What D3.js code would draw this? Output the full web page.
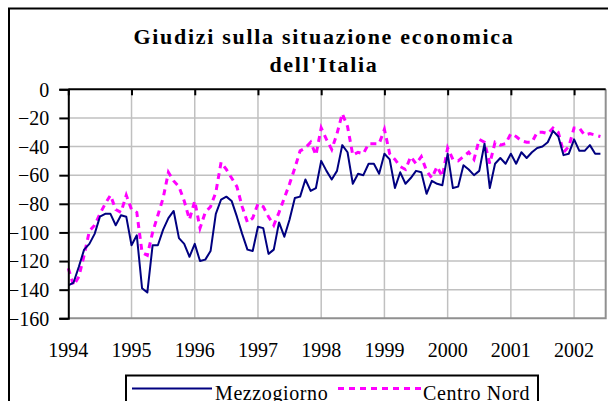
<!DOCTYPE html>
<html>
<head>
<meta charset="utf-8">
<script src="https://cdn.jsdelivr.net/npm/d3@7"></script>
<style>
    body { margin: 0; background: #fff; }
</style>
</head>
<body>
<div id="chart"></div>
<script>
// monthly values, Jan 1994 .. Jun 2002
const years = [1994, 1995, 1996, 1997, 1998, 1999, 2000, 2001, 2002];
const yTicks = [0, -20, -40, -60, -80, -100, -120, -140, -160];
const titleLines = ["Giudizi sulla situazione economica", "dell'Italia"];
const seriesNames = ["Mezzogiorno", "Centro Nord"];

const mezzogiorno = [
    -137, -135, -124, -112, -108, -101, -89, -87, -87, -95, -88, -89,
    -109, -102, -139, -142, -109, -109, -98, -90, -85, -104, -108, -117,
    -108, -120, -119, -113, -87, -77, -75, -78, -89, -101, -112, -113,
    -96, -97, -115, -112, -93, -103, -91, -76, -75, -63, -71, -69,
    -50, -57, -63, -57, -39, -44, -66, -59, -60, -52, -52, -59,
    -45, -49, -69, -58, -66, -62, -57, -58, -73, -64, -66, -67,
    -45, -69, -68, -53, -56, -60, -57, -38, -69, -52, -48, -52,
    -45, -52, -44, -48, -44, -41, -40, -37, -29, -33, -46, -45,
    -35, -43, -43, -39, -45, -45
];
const centroNord = [
    -125, -137, -131, -116, -99, -95, -87, -80, -74, -84, -86, -74,
    -84, -86, -114, -116, -100, -88, -76, -58, -64, -68, -78, -91,
    -78, -97, -86, -82, -72, -51, -56, -62, -68, -82, -93, -90,
    -80, -82, -89, -95, -86, -76, -66, -55, -43, -41, -37, -46,
    -27, -35, -42, -31, -17, -26, -46, -44, -45, -38, -38, -38,
    -28, -45, -49, -54, -56, -47, -52, -47, -57, -62, -54, -61,
    -41, -49, -50, -47, -44, -49, -35, -37, -52, -37, -39, -38,
    -31, -33, -36, -37, -37, -30, -30, -31, -27, -30, -44, -40,
    -27, -27, -32, -31, -32, -33
];

const FONT = "'Liberation Serif', 'Times New Roman', 'DejaVu Serif', serif";
const width = 608, height = 401;
const plot = { left: 68.3, right: 605.7, top: 89.3, bottom: 318.3 };

const svg = d3.select('#chart').append('svg')
    .attr('width', width).attr('height', height)
    .attr('font-family', FONT);

// chart frame (runs off the right and bottom edges)
svg.append('rect')
    .attr('x', 9).attr('y', 8.5)
    .attr('width', 640).attr('height', 440)
    .style('fill', '#fff').style('stroke', '#000').style('stroke-width', 2);

svg.selectAll('.title').data(titleLines).enter().append('text')
    .attr('class', 'title')
    .attr('x', 324).attr('y', (d, i) => 43.5 + i * 28.5)
    .attr('text-anchor', 'middle')
    .style('font-family', FONT)
    .style('font-size', '22px').style('font-weight', 'bold')
    .style('letter-spacing', '1.7px')
    .text(d => d);

const x = d3.scaleLinear().domain([0, 102]).range([plot.left, plot.right]);
const y = d3.scaleLinear().domain([-160, 0]).range([plot.bottom, plot.top]);

const g = svg.append('g');

// gridlines
g.selectAll('.hgrid').data(yTicks.slice(1, -1)).enter().append('line')
    .attr('x1', plot.left).attr('x2', plot.right)
    .attr('y1', d => y(d)).attr('y2', d => y(d))
    .style('stroke', '#c0c0c0').style('stroke-width', 1.5);

g.selectAll('.vgrid').data(years.slice(1)).enter().append('line')
    .attr('x1', d => x((d - 1994) * 12)).attr('x2', d => x((d - 1994) * 12))
    .attr('y1', plot.top).attr('y2', plot.bottom)
    .style('stroke', '#c0c0c0').style('stroke-width', 1.5);

// plot area border, right and bottom
g.append('path')
    .attr('d', `M${plot.right},${plot.top}V${plot.bottom}H${plot.left}`)
    .style('fill', 'none').style('stroke', '#909090').style('stroke-width', 2);

// series
const line = d3.line().x((d, i) => x(i)).y(d => y(d));

g.append('path').datum(centroNord)
    .attr('d', line)
    .style('fill', 'none').style('stroke', '#ff00ff')
    .style('stroke-width', 3).style('stroke-dasharray', '6,5');

g.append('path').datum(mezzogiorno)
    .attr('d', line)
    .style('fill', 'none').style('stroke', '#000080')
    .style('stroke-width', 2).style('stroke-linejoin', 'round');

// value axis
const yAxis = d3.axisLeft(y).tickValues(yTicks).tickSize(9).tickPadding(10)
    .tickFormat(d3.format('d'));
const ya = svg.append('g').attr('transform', `translate(${plot.left},0)`).call(yAxis)
    .attr('font-family', FONT).attr('font-size', 20);
ya.select('.domain').style('stroke-width', 2);
ya.selectAll('.tick line').style('stroke-width', 2);
ya.selectAll('text').attr('dy', '0.34em').style('font-family', FONT).style('font-size', '20px');

// category axis crosses at 0, labels at the bottom
const xTop = d3.axisBottom(x).tickValues(years.map(d => (d - 1994) * 12))
    .tickSize(6).tickFormat('');
const xa = svg.append('g').attr('transform', `translate(0,${plot.top})`).call(xTop);
xa.select('.domain').attr('d', `M${plot.left},0H${plot.right}`).style('stroke-width', 2);
xa.selectAll('.tick line').style('stroke-width', 2);

svg.selectAll('.xlab').data(years).enter().append('text')
    .attr('x', d => x((d - 1994) * 12)).attr('y', 356.5)
    .attr('text-anchor', 'middle')
    .style('font-family', FONT)
    .style('font-size', '20px')
    .text(d => d);

// legend
const lg = svg.append('g');
lg.append('rect')
    .attr('x', 126).attr('y', 375.5).attr('width', 412).attr('height', 40)
    .style('fill', '#fff').style('stroke', '#000').style('stroke-width', 2);

const legendItems = [
    { name: seriesNames[0], color: '#000080', width: 2, dash: null, x0: 132, x1: 212, tx: 215 },
    { name: seriesNames[1], color: '#ff00ff', width: 3, dash: '6,5', x0: 338, x1: 421, tx: 423 }
];
legendItems.forEach(it => {
    lg.append('line')
        .attr('x1', it.x0).attr('x2', it.x1).attr('y1', 388.5).attr('y2', 388.5)
        .style('stroke', it.color).style('stroke-width', it.width)
        .style('stroke-dasharray', it.dash);
    lg.append('text')
        .attr('x', it.tx).attr('y', 399.5)
        .style('font-family', FONT)
        .style('font-size', '20px').style('letter-spacing', '0.6px')
        .text(it.name);
});
</script>
</body>
</html>
